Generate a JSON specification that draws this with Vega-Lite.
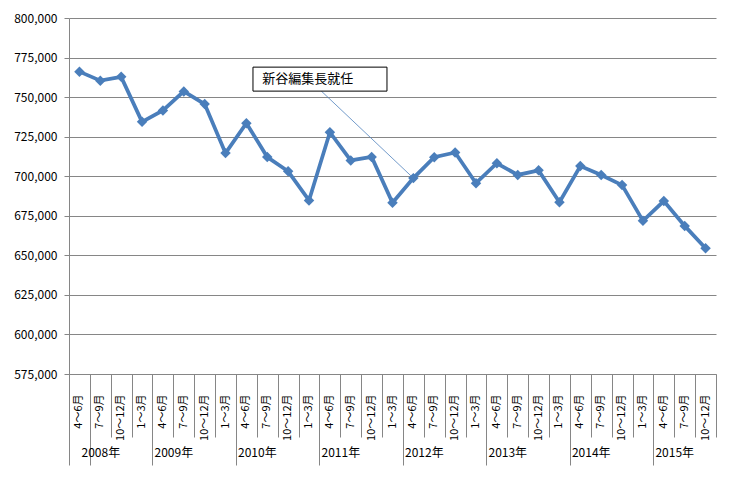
{
  "$schema": "https://vega.github.io/schema/vega-lite/v6.json",
  "width": 647,
  "height": 356,
  "autosize": {"type": "none"},
  "padding": {"left": 69, "top": 18, "right": 17, "bottom": 109},
  "background": "white",
  "config": {"view": {"stroke": null}, "font": "Noto Sans CJK JP"},
  "data": {
    "values": [
      {"period": "2008年4～6月", "copies": 766100},
      {"period": "2008年7～9月", "copies": 760400},
      {"period": "2008年10～12月", "copies": 762800},
      {"period": "2009年1～3月", "copies": 734400},
      {"period": "2009年4～6月", "copies": 741600},
      {"period": "2009年7～9月", "copies": 753600},
      {"period": "2009年10～12月", "copies": 745600},
      {"period": "2010年1～3月", "copies": 714600},
      {"period": "2010年4～6月", "copies": 733500},
      {"period": "2010年7～9月", "copies": 712100},
      {"period": "2010年10～12月", "copies": 703100},
      {"period": "2011年1～3月", "copies": 684700},
      {"period": "2011年4～6月", "copies": 727800},
      {"period": "2011年7～9月", "copies": 710000},
      {"period": "2011年10～12月", "copies": 712200},
      {"period": "2012年1～3月", "copies": 683200},
      {"period": "2012年4～6月", "copies": 698800, "note": "新谷編集長就任"},
      {"period": "2012年7～9月", "copies": 712000},
      {"period": "2012年10～12月", "copies": 715000},
      {"period": "2013年1～3月", "copies": 695600},
      {"period": "2013年4～6月", "copies": 708200},
      {"period": "2013年7～9月", "copies": 700800},
      {"period": "2013年10～12月", "copies": 703700},
      {"period": "2014年1～3月", "copies": 683600},
      {"period": "2014年4～6月", "copies": 706400},
      {"period": "2014年7～9月", "copies": 700800},
      {"period": "2014年10～12月", "copies": 694400},
      {"period": "2015年1～3月", "copies": 671800},
      {"period": "2015年4～6月", "copies": 684300},
      {"period": "2015年7～9月", "copies": 668600},
      {"period": "2015年10～12月", "copies": 654500}
    ]
  },
  "encoding": {
    "y": {
      "field": "copies",
      "type": "quantitative",
      "scale": {"domain": [575000, 800000], "nice": false, "zero": false},
      "axis": {
        "title": null,
        "values": [575000, 600000, 625000, 650000, 675000, 700000, 725000, 750000, 775000, 800000],
        "labelExpr": "format(datum.value, ',')",
        "grid": true,
        "gridColor": "#868686",
        "domainColor": "#868686",
        "tickColor": "#868686",
        "tickSize": 5,
        "labelPadding": 7,
        "labelFontSize": 12,
        "labelColor": "black",
        "labelFont": "Noto Sans CJK JP"
      }
    }
  },
  "layer": [
    {
      "mark": {"type": "line", "color": "#4A7EBB", "strokeWidth": 3.75},
      "encoding": {
        "x": {
          "field": "period", "type": "ordinal", "sort": null,
          "scale": {"type": "band", "paddingInner": 0, "paddingOuter": 0},
          "axis": {
            "orient": "bottom", "title": null, "labelAngle": -90,
            "labelExpr": "isString(datum.value) ? slice(datum.value, 5) : ''",
            "ticks": false, "labelPadding": 20, "domainColor": "#868686",
            "labelFontSize": 11, "labelColor": "black", "labelFont": "Noto Sans CJK JP",
            "labelOverlap": false, "grid": false
          }
        }
      }
    },
    {
      "mark": {"type": "point", "shape": "diamond", "filled": true, "color": "#4A7EBB", "size": 110, "opacity": 1},
      "encoding": {
        "x": {
          "field": "period", "type": "ordinal", "sort": null,
          "scale": {"type": "band", "paddingInner": 0, "paddingOuter": 0},
          "axis": {
            "orient": "bottom", "title": null, "labels": false, "ticks": true,
            "tickBand": "extent", "tickSize": 63, "tickColor": "#868686",
            "domain": false, "grid": false
          }
        }
      }
    },
    {
      "transform": [{"filter": "isValid(datum.note)"}],
      "mark": {"type": "rule", "color": "#4F81BD", "strokeWidth": 0.8, "x2Offset": -92, "y2Offset": -87},
      "encoding": {
        "x": {
          "field": "period", "type": "ordinal", "sort": null,
          "scale": {"type": "band", "paddingInner": 0, "paddingOuter": 0},
          "axis": {
            "orient": "bottom", "title": null, "tickBand": "extent", "tickSize": 91,
            "tickColor": "#868686",
            "tickOpacity": {"condition": {"test": "!isString(datum.value) || datum.value == '2008年4～6月' || slice(datum.value, 5) == '1～3月'", "value": 1}, "value": 0},
            "labelExpr": "isString(datum.value) && slice(datum.value, 5) == '7～9月' ? slice(datum.value, 0, 5) : ''",
            "labelOffset": {"condition": {"test": "datum.value == '2008年7～9月'", "value": 0}, "value": -10.435},
            "labelPadding": -18, "labelAngle": 0, "labelFontSize": 12, "labelColor": "black",
            "labelFont": "Noto Sans CJK JP", "labelOverlap": false, "labelBound": false,
            "domain": false, "grid": false
          }
        },
        "x2": {"field": "period"},
        "y2": {"field": "copies"}
      }
    },
    {
      "transform": [{"filter": "isValid(datum.note)"}],
      "mark": {
        "type": "point",
        "shape": "M-1,-0.179L1,-0.179L1,0.179L-1,0.179Z",
        "size": 17956, "filled": true, "fill": "white", "stroke": "black", "strokeWidth": 1, "opacity": 1,
        "xOffset": -93.4, "yOffset": -99
      },
      "encoding": {
        "x": {"field": "period", "type": "ordinal", "sort": null, "scale": {"type": "band", "paddingInner": 0, "paddingOuter": 0}, "axis": null}
      }
    },
    {
      "transform": [{"filter": "isValid(datum.note)"}],
      "mark": {"type": "text", "align": "left", "baseline": "middle", "dx": -151, "dy": -99, "fontSize": 13, "font": "Noto Sans CJK JP", "color": "black"},
      "encoding": {
        "x": {"field": "period", "type": "ordinal", "sort": null, "scale": {"type": "band", "paddingInner": 0, "paddingOuter": 0}, "axis": null},
        "text": {"field": "note"}
      }
    }
  ],
  "resolve": {"axis": {"x": "independent"}}
}
